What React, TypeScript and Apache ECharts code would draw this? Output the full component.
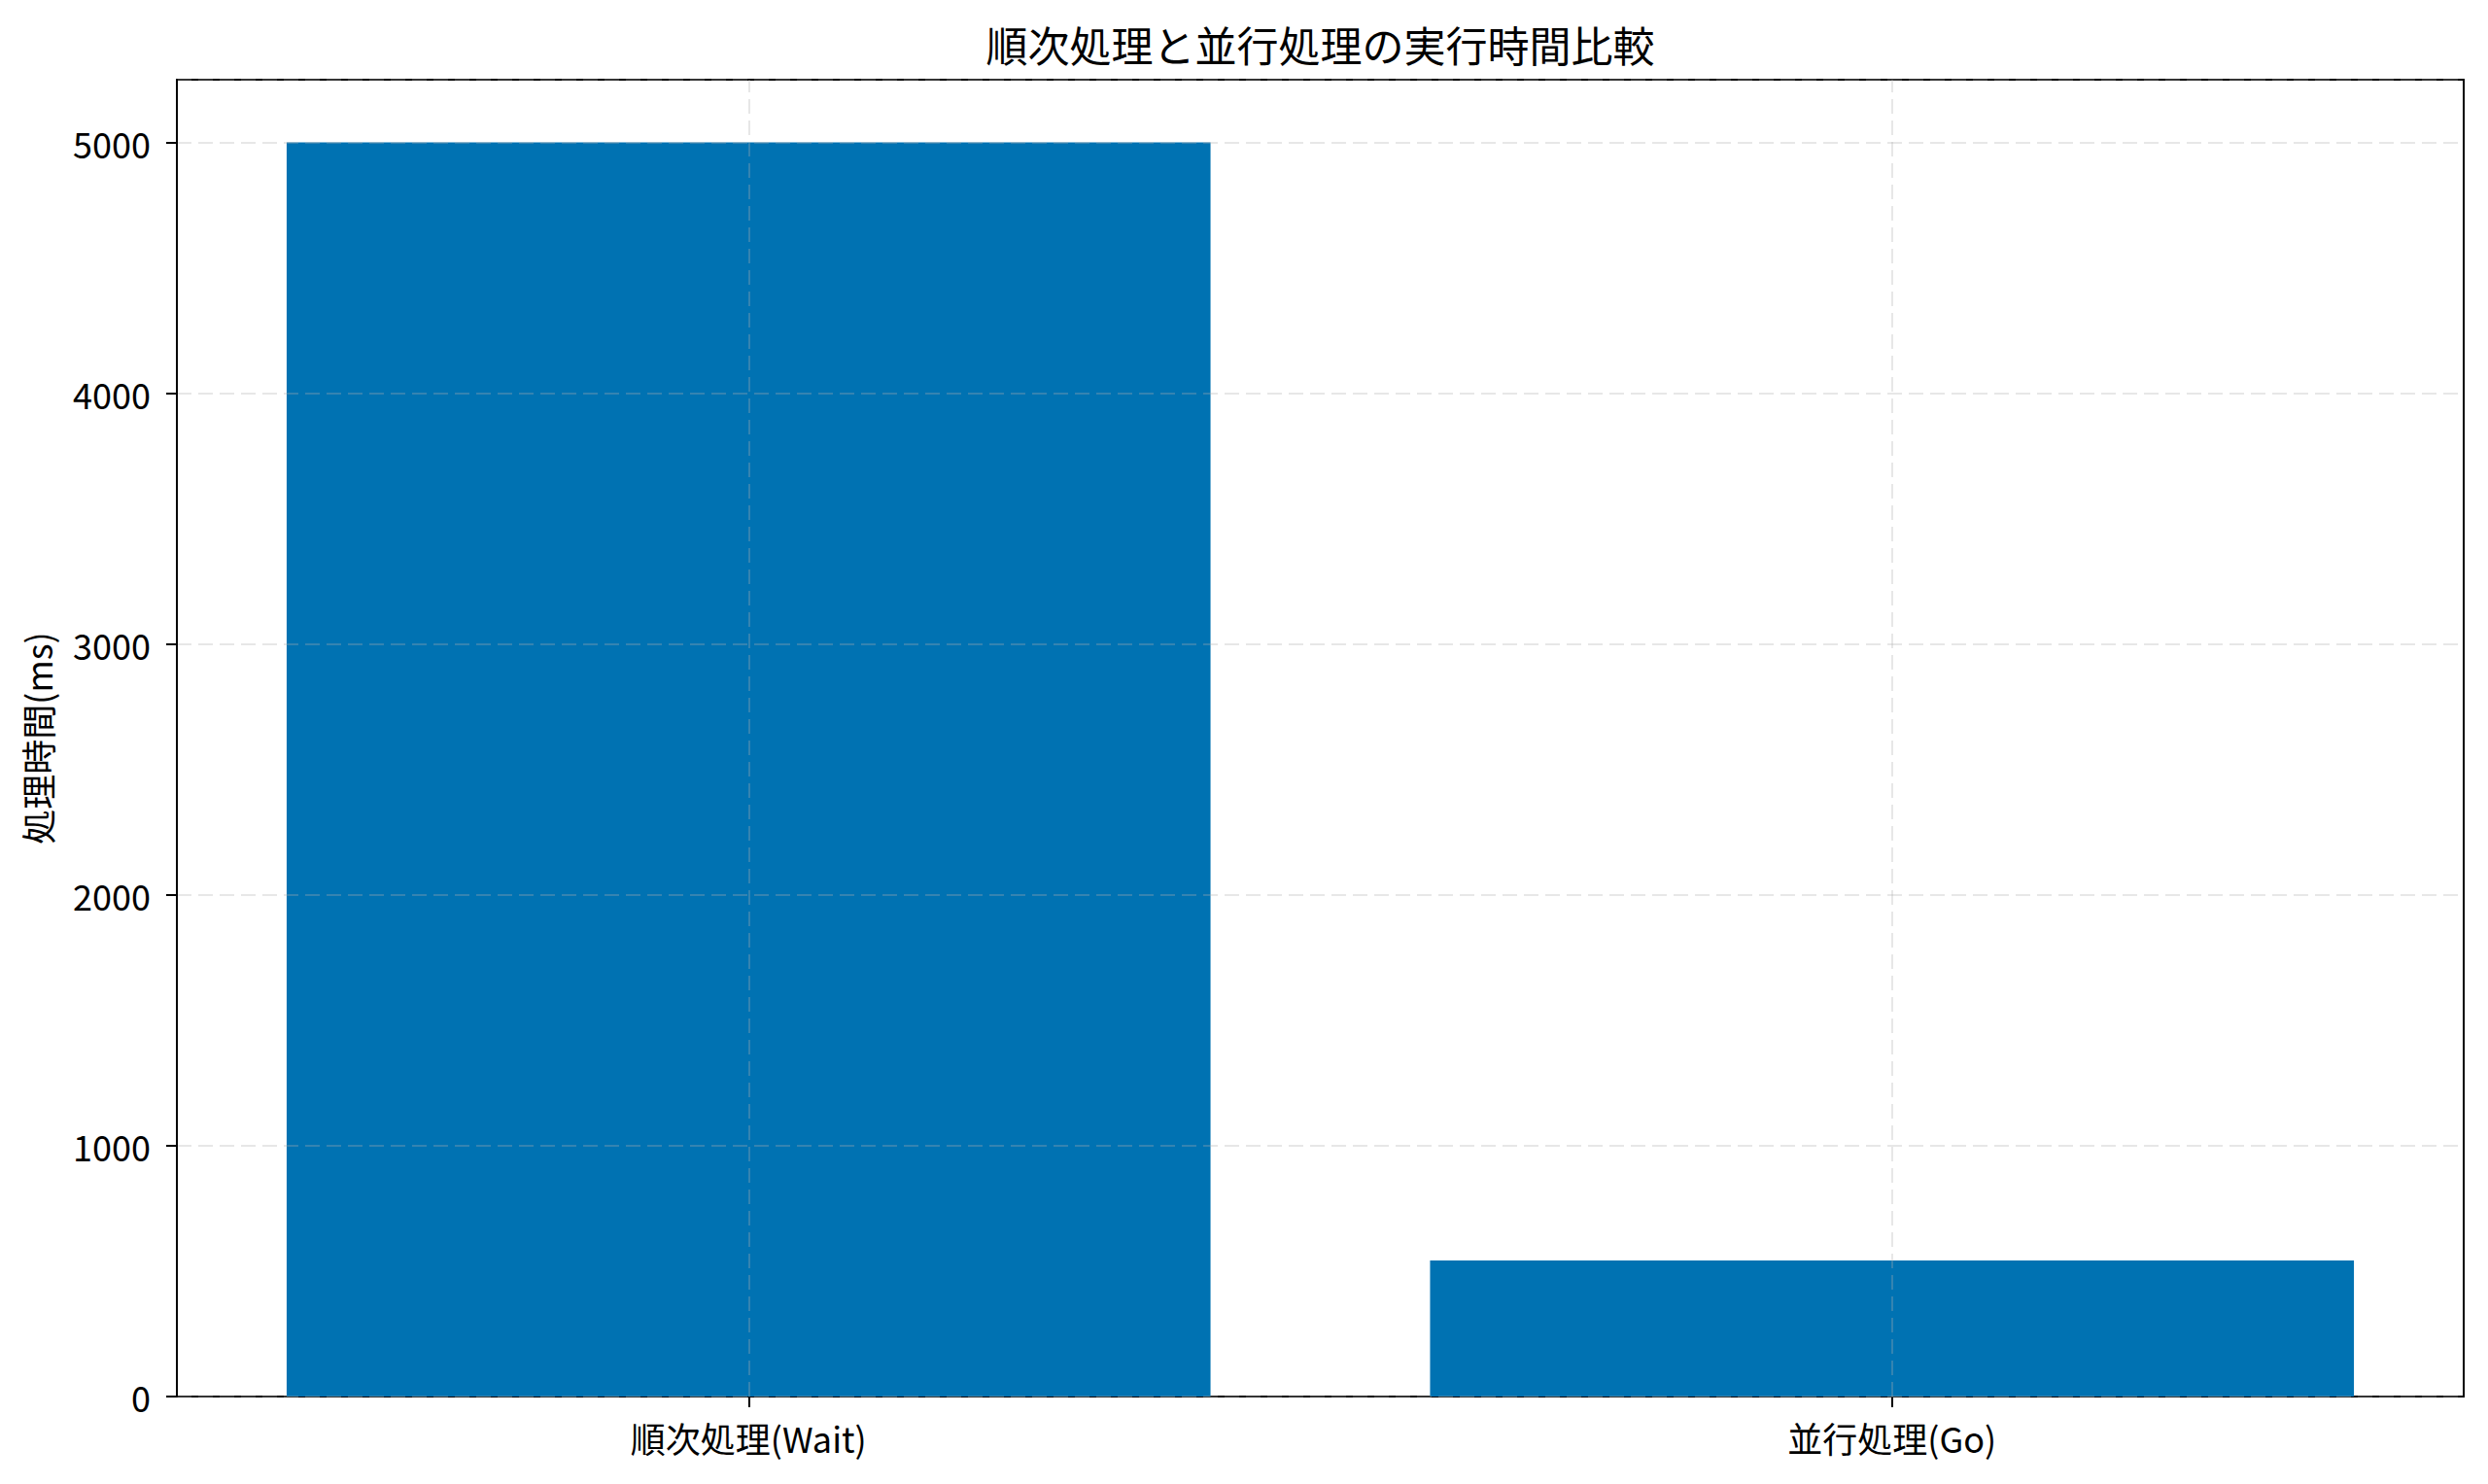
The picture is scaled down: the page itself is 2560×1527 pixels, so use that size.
import React, { useEffect, useRef } from "react";
import * as echarts from "echarts";

const title = "順次処理と並行処理の実行時間比較";
const categories = ["順次処理(Wait)", "並行処理(Go)"];
const durations = [5000, 542];
const yAxisName = "処理時間(ms)";
const yMin = 0;
const yMax = 5250;
const yInterval = 1000;

const FONT = '"Noto Sans CJK JP", "Noto Sans", sans-serif';
const gridColor = "rgba(176,176,176,0.3)";

const W = 2560;
const H = 1527;
const G_LEFT = 182;
const G_RIGHT = 25;
const G_TOP = 82;
const G_BOTTOM = 90;

export default function App() {
  const ref = useRef<HTMLDivElement>(null);
  useEffect(() => {
    if (!ref.current) return;
    const chart = echarts.init(ref.current, null, { renderer: "svg" });
    chart.setOption({
      animation: false,
      backgroundColor: "#ffffff",
      textStyle: { fontFamily: FONT },
      graphic: [
        {
          type: "text",
          x: G_LEFT + (W - G_LEFT - G_RIGHT) / 2,
          y: 45,
          style: {
            text: title,
            fontFamily: FONT,
            fontSize: 43,
            fill: "#000",
            align: "center",
            verticalAlign: "middle",
          },
        },
      ],
      grid: {
        left: G_LEFT,
        right: G_RIGHT,
        top: G_TOP,
        bottom: G_BOTTOM,
        show: true,
        borderColor: "#000",
        borderWidth: 2,
        backgroundColor: "transparent",
      },
      xAxis: {
        type: "category",
        data: categories,
        boundaryGap: true,
        axisLine: { show: true, lineStyle: { color: "#000", width: 2 } },
        axisTick: { show: true, alignWithLabel: true, length: 11, lineStyle: { color: "#000", width: 2 } },
        axisLabel: { fontFamily: FONT, fontSize: 36, color: "#000", margin: 24 },
        splitLine: { show: false },
      },
      yAxis: {
        type: "value",
        min: yMin,
        max: yMax,
        interval: yInterval,
        z: 3,
        name: yAxisName,
        nameLocation: "middle",
        nameGap: 126,
        nameRotate: 90,
        nameTextStyle: { fontFamily: FONT, fontSize: 36, color: "#000" },
        axisLine: { show: true, lineStyle: { color: "#000", width: 2 } },
        axisTick: { show: true, length: 11, lineStyle: { color: "#000", width: 2 } },
        axisLabel: {
          fontFamily: FONT,
          fontSize: 36,
          color: "#000",
          margin: 27,
          showMaxLabel: false,
          formatter: (v: number) => (v % yInterval === 0 ? String(v) : ""),
        },
        splitLine: { show: true, lineStyle: { color: gridColor, width: 2, type: [15, 7] } },
      },
      series: [
        {
          type: "bar",
          data: durations,
          barWidth: "80.8%",
          itemStyle: { color: "#0072B2" },
          markLine: {
            silent: true,
            symbol: "none",
            label: { show: false },
            lineStyle: { color: gridColor, width: 2, type: [15, 7] },
            data: categories.map((_, i) => ({ xAxis: i })),
          },
        },
      ],
    });
    return () => chart.dispose();
  }, []);
  return (
    <div
      ref={ref}
      style={{ position: "absolute", left: 0, top: 0, width: W, height: H }}
    />
  );
}
